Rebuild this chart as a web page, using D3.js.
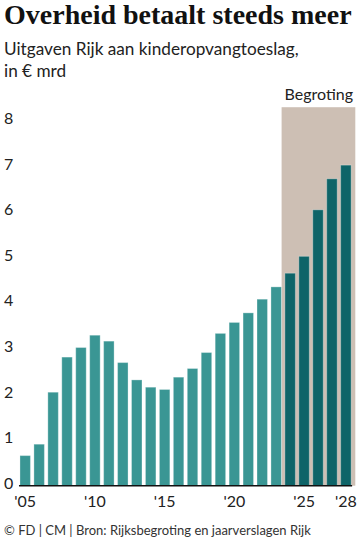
<!DOCTYPE html>
<html><head><meta charset="utf-8">
<script src="https://cdn.jsdelivr.net/npm/d3@7"></script>
<style>body{margin:0;background:#fff}svg{display:block}</style>
</head><body>
<svg id="c" width="360" height="544"></svg>
<script>
const years = [2005,2006,2007,2008,2009,2010,2011,2012,2013,2014,2015,2016,2017,2018,2019,2020,2021,2022,2023,2024,2025,2026,2027,2028];
const values = [0.66,0.91,2.05,2.82,3.03,3.30,3.17,2.70,2.32,2.16,2.11,2.38,2.57,2.92,3.34,3.58,3.79,4.09,4.36,4.66,5.03,6.05,6.73,7.03];
const forecastFrom = 2024;
const yTicks = [0,1,2,3,4,5,6,7,8];
const xTickYears = [2005,2010,2015,2020,2025,2028];
const xTickLabels = ["'05","'10","'15","'20","'25","'28"];
const shadeLabel = "Begroting";

const svg = d3.select("#c");
const sans = "Lato, 'Open Sans', sans-serif";
const x = d3.scaleBand().domain(years).range([18.3, 352.8]).paddingInner(0.25).paddingOuter(0.12);
const y = d3.scaleLinear().domain([0, 8]).range([485.7, 120.9]);

// title
svg.append("text").attr("x",4).attr("y",24).text("Overheid betaalt steeds meer")
  .attr("font-family","'Liberation Serif', serif").attr("font-weight","bold").attr("font-size",28).attr("fill","#111");
svg.append("text").attr("x",4).attr("y",55).text("Uitgaven Rijk aan kinderopvangtoeslag,")
  .attr("font-family",sans).attr("font-size",17.2).attr("fill","#222");
svg.append("text").attr("x",4).attr("y",77).text("in € mrd")
  .attr("font-family",sans).attr("font-size",17.2).attr("fill","#222");

// shade
const sx0 = x(forecastFrom) - 3.3;
svg.append("rect").attr("x",sx0).attr("y",y(8.3)).attr("width",355.3 - sx0).attr("height",y(0)-y(8.3)).attr("fill","#cdbfb4");
svg.append("text").attr("x",353).attr("y",100).attr("text-anchor","end").text(shadeLabel)
  .attr("font-family",sans).attr("font-size",16).attr("fill","#222");

// y ticks
svg.append("g").selectAll("text").data(yTicks).join("text")
  .attr("x",4).attr("y",d=>y(d)-2.6).attr("dy","0.35em").text(d=>d)
  .attr("font-family",sans).attr("font-size",16).attr("fill","#222");

// bars
svg.append("g").selectAll("rect").data(years).join("rect")
  .attr("x",d=>x(d)).attr("width",x.bandwidth())
  .attr("y",(d,i)=>y(values[i])).attr("height",(d,i)=>y(0)-y(values[i]))
  .attr("fill",d=>d>=forecastFrom?"#0e6468":"#3a9694")
  .attr("stroke","#fff").attr("stroke-opacity",0.3).attr("stroke-width",1);

// baseline
svg.append("line").attr("x1",x(years[0])-1).attr("x2",x(years[years.length-1])+x.bandwidth()+1)
  .attr("y1",y(0)).attr("y2",y(0)).attr("stroke","#111").attr("stroke-width",1.5);

// x labels
svg.append("g").selectAll("text").data(xTickYears).join("text")
  .attr("x",d=>x(d)+x.bandwidth()/2).attr("y",507).attr("text-anchor","middle")
  .text((d,i)=>xTickLabels[i]).attr("font-family",sans).attr("font-size",16).attr("fill","#222");

svg.append("text").attr("x",4).attr("y",535).text("© FD | CM | Bron: Rijksbegroting en jaarverslagen Rijk")
  .attr("font-family",sans).attr("font-size",13).attr("fill","#333");
</script>
</body></html>
